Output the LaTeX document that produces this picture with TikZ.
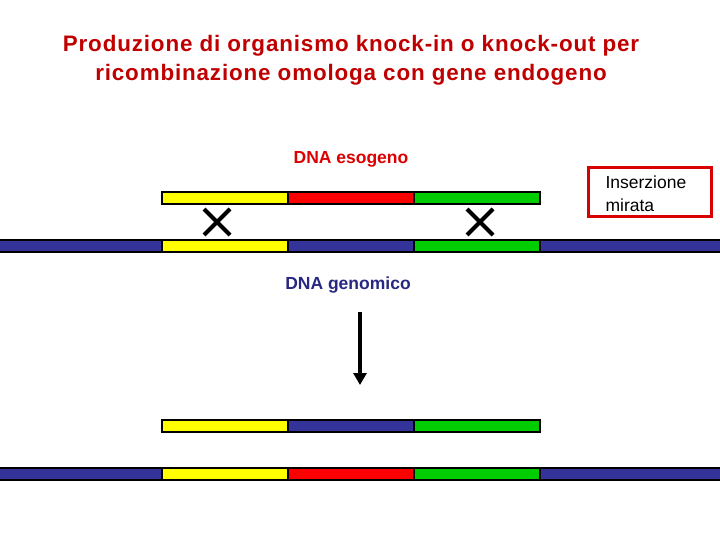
\documentclass[tikz,border=0pt]{standalone}
\usepackage{fontspec}
\setmainfont{Liberation Sans}
\newfontfamily\titlefont[LetterSpace=3.8]{Liberation Sans}
\usetikzlibrary{arrows.meta}
\definecolor{titlered}{RGB}{192,0,0}
\definecolor{esored}{RGB}{221,0,0}
\definecolor{genoblue}{RGB}{40,40,130}
\definecolor{dnablue}{RGB}{51,51,153}
\definecolor{dnayellow}{RGB}{255,255,0}
\definecolor{dnared}{RGB}{255,0,0}
\definecolor{dnagreen}{RGB}{0,204,0}
\tikzset{
	seg/.style = {draw=black, line width=1.1pt},
	cross/.style = {line width=4.2pt},
}
\begin{document}
\begin{tikzpicture}[x=1pt, y=-1pt]
	\useasboundingbox (0,0) rectangle (720,540);
	% title
	\node[text=titlered, font=\fontsize{22.4}{29}\titlefont\bfseries, align=center] (title) at (351,60)
		{Produzione di organismo knock-in o knock-out per\\ricombinazione omologa con gene endogeno};
	\node[text=esored, font=\fontsize{17.5}{21}\selectfont\bfseries] (eso) at (351,159) {DNA esogeno};
	% exogenous DNA
	\draw[seg, fill=dnayellow] (162,192) rectangle (288,204);
	\draw[seg, fill=dnared] (288,192) rectangle (414,204);
	\draw[seg, fill=dnagreen] (414,192) rectangle (540,204);
	% crossings
	\draw[cross] (204,209)--(230,235);
	\draw[cross] (230,209)--(204,235);
	\draw[cross] (467,209)--(493,235);
	\draw[cross] (493,209)--(467,235);
	% genomic DNA
	\draw[seg, fill=dnablue] (-2,240) rectangle (162,252);
	\draw[seg, fill=dnayellow] (162,240) rectangle (288,252);
	\draw[seg, fill=dnablue] (288,240) rectangle (414,252);
	\draw[seg, fill=dnagreen] (414,240) rectangle (540,252);
	\draw[seg, fill=dnablue] (540,240) rectangle (722,252);
	\node[text=genoblue, font=\fontsize{17.5}{21}\selectfont\bfseries] (geno) at (348,285) {DNA genomico};
	% box
	\node[draw=dnared!85!black, line width=3pt, minimum width=123pt, minimum height=49pt] (ins) at (649.5,192.5) {};
	\node[font=\fontsize{17.5}{23}\selectfont, align=left, anchor=west] (instext) at (602,194) {Inserzione\\mirata};
	% arrow
	\coordinate (top) at (360,312);
	\coordinate (bot) at (360,385);
	\draw[line width=3.4pt, -{Triangle[length=12pt, width=13pt]}] (top) -- (bot);
	% products
	\draw[seg, fill=dnayellow] (162,420) rectangle (288,432);
	\draw[seg, fill=dnablue] (288,420) rectangle (414,432);
	\draw[seg, fill=dnagreen] (414,420) rectangle (540,432);
	\draw[seg, fill=dnablue] (-2,468) rectangle (162,480);
	\draw[seg, fill=dnayellow] (162,468) rectangle (288,480);
	\draw[seg, fill=dnared] (288,468) rectangle (414,480);
	\draw[seg, fill=dnagreen] (414,468) rectangle (540,480);
	\draw[seg, fill=dnablue] (540,468) rectangle (722,480);
\end{tikzpicture}
\end{document}
